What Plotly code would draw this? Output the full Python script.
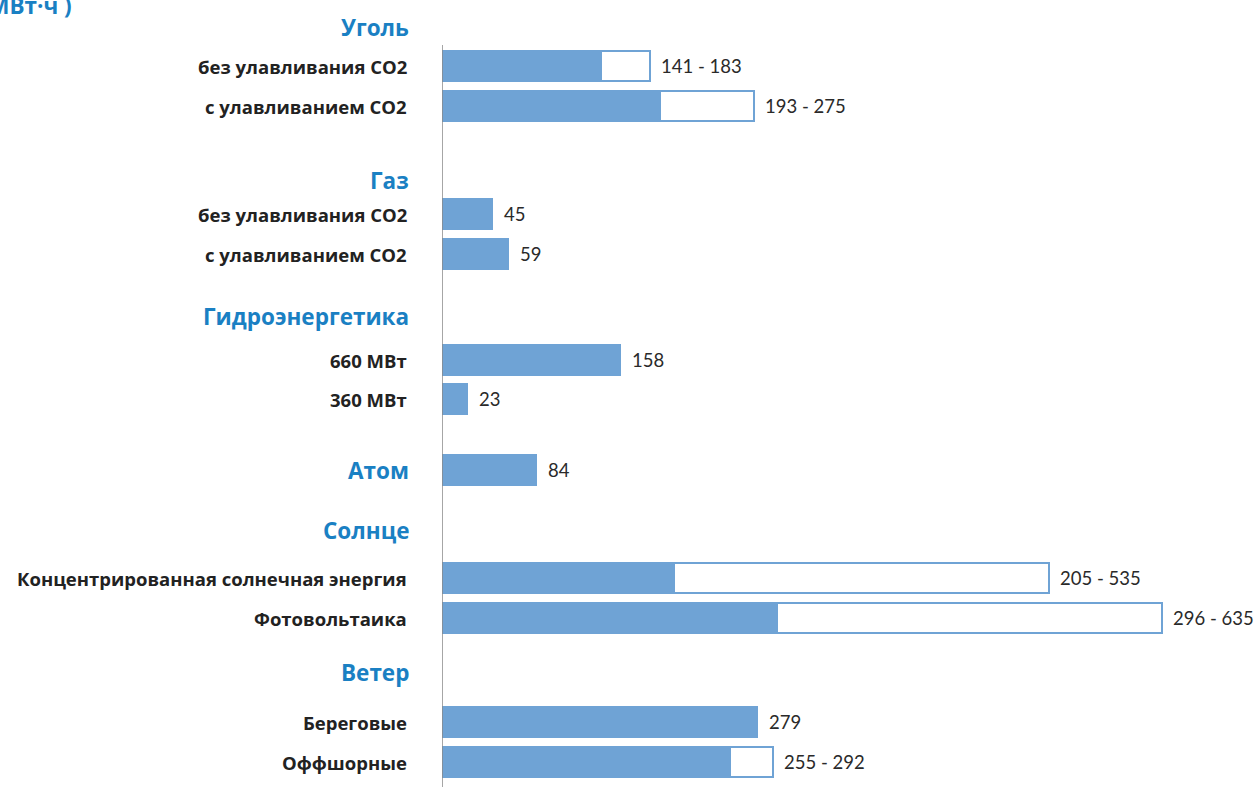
import plotly.graph_objects as go

# Levelized cost ranges by technology (min - max), single values where no range
groups = ["Уголь", "Газ", "Гидроэнергетика", "Атом", "Солнце", "Ветер"]
labels = [
    "без улавливания CO2", "с улавливанием CO2",
    "без улавливания CO2", "с улавливанием CO2",
    "660 МВт", "360 МВт",
    "Атом",
    "Концентрированная солнечная энергия", "Фотовольтаика",
    "Береговые", "Оффшорные",
]
group_of = [0, 0, 1, 1, 2, 2, 3, 4, 4, 5, 5]
low = [141, 193, 45, 59, 158, 23, 84, 205, 296, 279, 255]
high = [183, 275, None, None, None, None, None, 535, 635, None, 292]

# vertical layout (pixel rows, top to bottom)
row_y = [66, 106, 214, 254, 360, 399, 470, 578, 618, 722, 762]
header_y = {0: 27, 1: 180, 2: 316, 4: 530, 5: 672}

BLUE = "#6fa3d5"
HEAD = "#1a80c3"
LABEL_FONT = "Open Sans"
VALUE_FONT = "Lato"

fig = go.Figure()

# outlined range bars (max values)
rng_idx = [i for i, h in enumerate(high) if h is not None]
fig.add_trace(go.Bar(
    orientation="h",
    y=[row_y[i] for i in rng_idx],
    x=[high[i] for i in rng_idx],
    width=30,
    marker=dict(color="white", line=dict(color=BLUE, width=2)),
    hoverinfo="skip",
))
# filled bars (min / single values)
fig.add_trace(go.Bar(
    orientation="h",
    y=row_y,
    x=low,
    width=32,
    marker=dict(color=BLUE, line=dict(width=0)),
    hoverinfo="skip",
))

annotations = []
for i, lab in enumerate(labels):
    if high[i] is not None:
        txt = f"{low[i]} - {high[i]}"
        xend = high[i]
    else:
        txt = f"{low[i]}"
        xend = low[i]
    annotations.append(dict(
        x=xend, y=row_y[i], xref="x", yref="y", text=txt,
        xanchor="left", yanchor="middle", xshift=9, showarrow=False,
        font=dict(family=VALUE_FONT, size=18.5, color="#2a2a2a"),
    ))
    if lab == "Атом":
        annotations.append(dict(
            x=0, y=row_y[i], xref="x", yref="y", text=f"<b>{lab}</b>",
            xanchor="right", yanchor="middle", xshift=-31, showarrow=False,
            font=dict(family=LABEL_FONT, size=22.5, color=HEAD),
        ))
    else:
        annotations.append(dict(
            x=0, y=row_y[i], xref="x", yref="y", text=f"<b>{lab}</b>",
            xanchor="right", yanchor="middle", xshift=-33, showarrow=False,
            font=dict(family=LABEL_FONT, size=18.5, color="#222222"),
        ))

for g, yv in header_y.items():
    annotations.append(dict(
        x=0, y=yv, xref="x", yref="y", text=f"<b>{groups[g]}</b>",
        xanchor="right", yanchor="middle", xshift=-31, showarrow=False,
        font=dict(family=LABEL_FONT, size=22.5, color=HEAD),
    ))

# units title
annotations.append(dict(
    x=0, y=1, xref="paper", yref="paper", text="<b>(долл. США/МВт·ч )</b>",
    xanchor="right", yanchor="middle", xshift=-368, yshift=-5, showarrow=False,
    font=dict(family=LABEL_FONT, size=22.5, color=HEAD),
))

fig.update_layout(
    width=1259, height=787,
    margin=dict(l=442, r=23, t=0, b=0),
    paper_bgcolor="white", plot_bgcolor="white",
    barmode="overlay", bargap=0,
    showlegend=False,
    annotations=annotations,
    xaxis=dict(range=[0, 700], visible=False, fixedrange=True),
    yaxis=dict(range=[787, 0], visible=False, fixedrange=True),
    shapes=[dict(type="line", xref="x", yref="y", x0=0, x1=0, y0=45, y1=787,
                 line=dict(color="#888888", width=1.5))],
)

fig.write_html("out.html")
